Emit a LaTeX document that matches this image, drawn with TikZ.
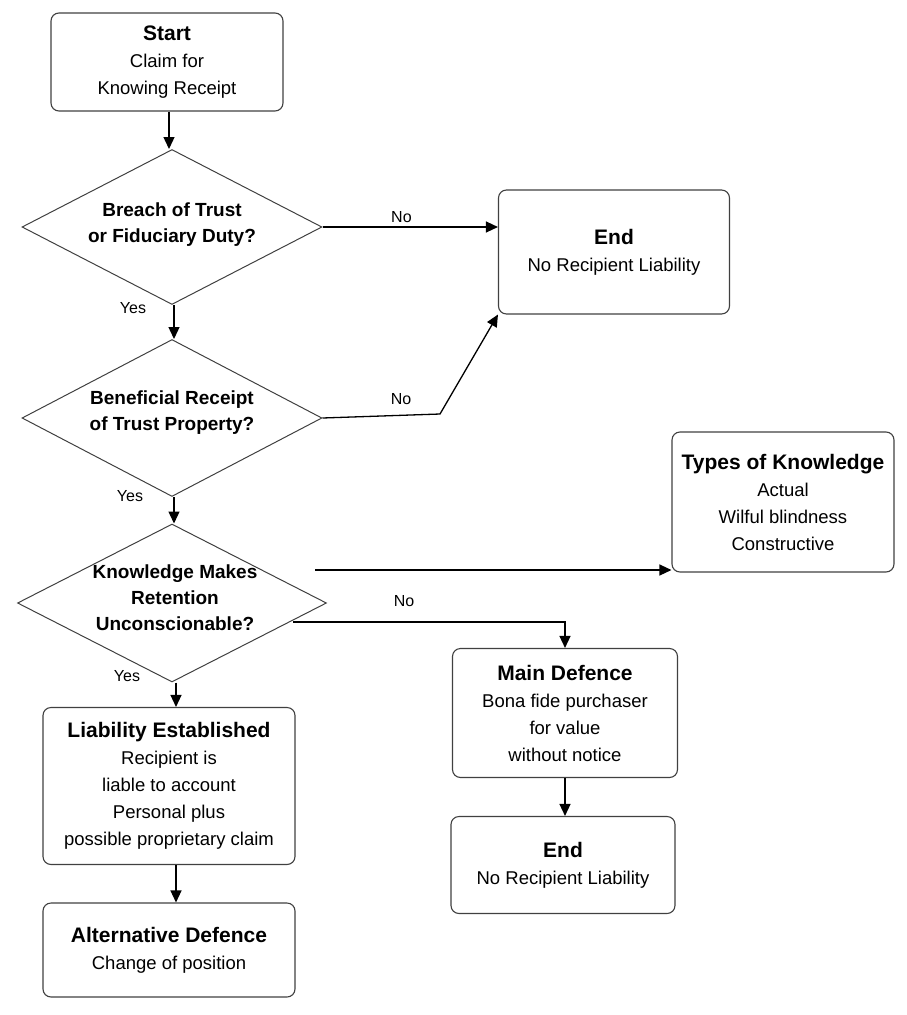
\documentclass[tikz,border=0pt]{standalone}
\usepackage{fontspec}
\setmainfont{Liberation Sans}
\usetikzlibrary{shapes.geometric,arrows.meta}
\begin{document}
\begin{tikzpicture}[x=1pt,y=-1pt,
  box/.style={draw=black!75,line width=1.1pt,rounded corners=8pt,align=center,inner sep=0pt,font=\fontsize{18.5}{27}\selectfont},
  arr/.style={line width=1.3pt,-{Triangle[length=12pt,width=11pt]}},
  dtext/.style={align=center,font=\fontsize{19}{26}\selectfont\bfseries},
  lab/.style={font=\fontsize{16}{18}\selectfont}]
\useasboundingbox (0,0) rectangle (907,1015);
\newcommand{\ttl}[1]{{\fontsize{21}{26}\selectfont\bfseries #1}}
\node[box,minimum width=232,minimum height=98] (start) at (167,62) {\ttl{Start}\\Claim for\\Knowing Receipt};
\node[draw=black!75,line width=1pt,diamond,minimum width=300,minimum height=155,inner sep=0pt] (d1) at (172,227) {};
\node[dtext] at (172,225) {Breach of Trust\\or Fiduciary Duty?};
\node[box,minimum width=231,minimum height=124] (e1) at (614,252) {\ttl{End}\\No Recipient Liability};
\node[draw=black!75,line width=1pt,diamond,minimum width=300,minimum height=157,inner sep=0pt] (d2) at (172,418) {};
\node[dtext] at (172,413) {Beneficial Receipt\\of Trust Property?};
\node[box,minimum width=222,minimum height=140] (types) at (783,502) {\ttl{Types of Knowledge}\\Actual\\Wilful blindness\\Constructive};
\node[draw=black!75,line width=1pt,diamond,minimum width=309,minimum height=158,inner sep=0pt] (d3) at (172,603) {};
\node[dtext] at (175,598) {Knowledge Makes\\Retention\\Unconscionable?};
\node[box,minimum width=225,minimum height=129] (md) at (565,713) {\ttl{Main Defence}\\Bona fide purchaser\\for value\\without notice};
\node[box,minimum width=224,minimum height=97] (e2) at (563,865) {\ttl{End}\\No Recipient Liability};
\node[box,minimum width=252,minimum height=157] (le) at (169,786) {\ttl{Liability Established}\\Recipient is\\liable to account\\Personal plus\\possible proprietary claim};
\node[box,minimum width=252,minimum height=94] (alt) at (169,950) {\ttl{Alternative Defence}\\Change of position};
\draw[arr] (start.south -| 169,0) -- (d1.north -| 169,0);
\draw[arr] (d1.east) -- (e1.west |- d1.east) node[lab,pos=0.45,above] {No};
\draw[arr] (d1.south -| 174,0) -- (d2.north -| 174,0);
\node[lab] at (133,308) {Yes};
\coordinate (b2) at (440,414);
\draw[arr] (d2.east) -- (b2) -- (e1.south west);
\node[lab] at (401,399) {No};
\draw[arr] (d2.south -| 174,0) -- (d3.north -| 174,0);
\node[lab] at (130,496) {Yes};
\coordinate (k1) at (315,570);
\draw[arr] (k1) -- (types.west |- k1);
\coordinate (n3) at (293,622);
\draw[arr] (n3) -- (md.north |- n3) -- (md.north);
\node[lab] at (404,601) {No};
\draw[arr] (d3.south -| 176,0) -- (le.north -| 176,0);
\node[lab] at (127,676) {Yes};
\draw[arr] (le.south -| 176,0) -- (alt.north -| 176,0);
\draw[arr] (md.south) -- (e2.north -| md.south);
\end{tikzpicture}
\end{document}
